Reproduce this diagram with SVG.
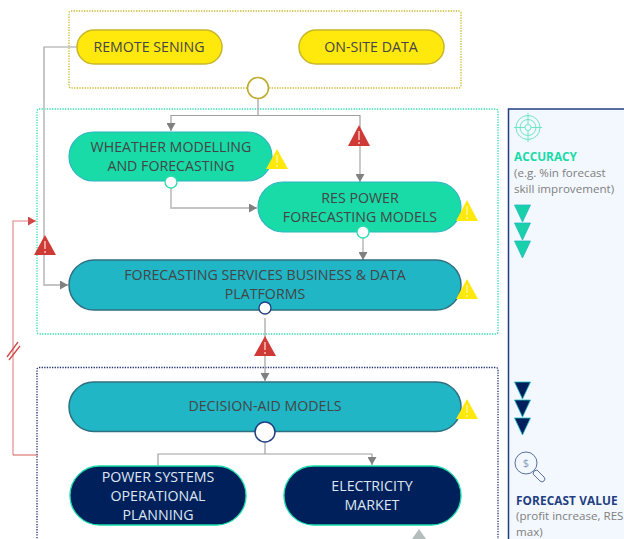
<svg xmlns="http://www.w3.org/2000/svg" width="624" height="539" viewBox="0 0 624 539">
<style>
text{font-family:"Open Sans","Noto Sans","Liberation Sans",sans-serif;font-size:14.2px;fill:#454545;text-anchor:middle}
.small{font-size:11.6px;fill:#808080;text-anchor:start}
.head{font-size:11.8px;font-weight:700;text-anchor:start}
.box{fill:none;stroke-width:1.3;stroke-dasharray:1.3 1.3}
.y{fill:#ffe90d;stroke:#c9b72a;stroke-width:1.5}
.g{fill:#18dba8;stroke:#2fb5c0;stroke-width:1.2}
.t{fill:#20b6c6;stroke:#2f6f80;stroke-width:1.5}
.n{fill:#00205b;stroke:#18dba8;stroke-width:1.3}
.c{fill:none;stroke:#a0a0a0;stroke-width:1.2}
.c2{fill:none;stroke:#c4c4c4;stroke-width:1.8}
.r{fill:none;stroke:#eaaaaa;stroke-width:1.6}
.warnr{fill:#cf3a36}
.warny{fill:#ffe90d}
.bang{fill:#f0b8b0}
.bangy{fill:#fff58a}
.lt{fill:#dfe6f2}
</style>
<defs>
<marker id="a" markerUnits="userSpaceOnUse" markerWidth="9" markerHeight="9" refX="8" refY="4.5" orient="auto"><path d="M0 0L8 4.5L0 9Z" fill="#808080"/></marker>
<marker id="ra" markerUnits="userSpaceOnUse" markerWidth="9" markerHeight="9" refX="8" refY="4.5" orient="auto"><path d="M0 0L8 4.5L0 9Z" fill="#cf4a48"/></marker>
</defs>
<g id="panel"><rect x="508.5" y="109" width="130" height="450" fill="#f3f8fe" stroke="#1f3f80" stroke-width="1.5"/></g>
<g id="zone-data"><rect class="box" x="69" y="11" width="392" height="77" rx="2" stroke="#c9b72a"/></g>
<g id="zone-forecast"><rect class="box" x="37" y="109" width="461" height="225" rx="2" stroke="#2fdcb0"/></g>
<g id="zone-decision"><rect class="box" x="37" y="367.500" width="461" height="190" rx="2" stroke="#1f2f70"/></g>
<g id="connectors">
<path class="c" d="M77 47H44V100"/>
<path class="c2" d="M44 100V285H68" marker-end="url(#a)"/>
<path class="c" d="M258 99V115.500H171V131" marker-end="url(#a)"/>
<path class="c" d="M258 115.500H360V130"/>
<path class="c2" d="M360 130V182" marker-end="url(#a)"/>
<path class="c2" d="M171 188V208H257" marker-end="url(#a)"/>
<path class="c2" d="M363 238V260" marker-end="url(#a)"/>
<path class="c" d="M265 318V381" marker-end="url(#a)"/>
<path class="c" d="M265 442V454M158 465V454H372V465" marker-end="url(#a)"/>
<path class="r" d="M13 300V221H36" marker-end="url(#ra)"/>
<path class="r" d="M13 300V455"/>
<path d="M13 455H38" fill="none" stroke="#d45c5a" stroke-width="1"/>
<path d="M7 357L18 342M9 360L20 346" fill="none" stroke="#cf4a48" stroke-width="1.3"/>
</g>
<g id="remote-sensing"><rect class="y" x="77" y="30" width="145" height="34" rx="17"/><text x="149" y="52">REMOTE SENING</text></g>
<g id="on-site-data"><rect class="y" x="299" y="30" width="145" height="34" rx="17"/><text x="371" y="52">ON-SITE DATA</text></g>
<g id="data-junction"><circle cx="258" cy="88" r="10.500" fill="#fff" stroke="#c0ad2e" stroke-width="1.6"/></g>
<g id="weather"><rect class="g" x="69" y="132" width="203" height="49" rx="24.500"/><text x="171" y="152">WHEATHER MODELLING</text><text x="171" y="171">AND FORECASTING</text><circle cx="171" cy="182" r="6" fill="#fff" stroke="#2fdcb0" stroke-width="1.3"/></g>
<g id="res-power"><rect class="g" x="258" y="182" width="203" height="50" rx="25"/><text x="360" y="203">RES POWER</text><text x="360" y="222">FORECASTING MODELS</text><circle cx="363" cy="232" r="6" fill="#fff" stroke="#2fdcb0" stroke-width="1.3"/></g>
<g id="platforms"><rect class="t" x="69" y="260" width="392" height="50" rx="25"/><text x="265" y="280">FORECASTING SERVICES BUSINESS &amp; DATA</text><text x="265" y="299">PLATFORMS</text><circle cx="265" cy="308" r="6" fill="#fff" stroke="#1f3f80" stroke-width="1.3"/></g>
<g id="decision-aid"><rect class="t" x="69" y="382" width="392" height="49.500" rx="24.700"/><text x="265" y="411">DECISION-AID MODELS</text><circle cx="265" cy="432" r="10" fill="#fff" stroke="#1f3f80" stroke-width="1.5"/></g>
<g id="power-systems"><rect class="n" x="70" y="466" width="176" height="59" rx="29.500"/><text class="lt" x="158" y="482">POWER SYSTEMS</text><text class="lt" x="158" y="501">OPERATIONAL</text><text class="lt" x="158" y="520">PLANNING</text></g>
<g id="electricity-market"><rect class="n" x="284" y="466" width="177" height="59" rx="29.500"/><text class="lt" x="372" y="491">ELECTRICITY</text><text class="lt" x="372" y="510">MARKET</text></g>
<g id="warnings">
<path class="warnr" d="M45 235L56 255H34Z"/><rect class="bang" x="44.200" y="241" width="1.600" height="8"/><rect class="bang" x="44.200" y="251" width="1.600" height="2"/>
<path class="warnr" d="M359 125L370 146H348Z"/><rect class="bang" x="358.200" y="131" width="1.600" height="9"/><rect class="bang" x="358.200" y="142" width="1.600" height="2"/>
<path class="warnr" d="M265 336L276 356H254Z"/><rect class="bang" x="264.200" y="342" width="1.600" height="8"/><rect class="bang" x="264.200" y="352" width="1.600" height="2"/>
<path class="warny" d="M277 149L288 169H266Z"/><rect class="bangy" x="276.200" y="155" width="1.600" height="8"/><rect class="bangy" x="276.200" y="165" width="1.600" height="2"/>
<path class="warny" d="M467 200L478 221H456Z"/><rect class="bangy" x="466.200" y="206" width="1.600" height="9"/><rect class="bangy" x="466.200" y="217" width="1.600" height="2"/>
<path class="warny" d="M467 279L478 299H456Z"/><rect class="bangy" x="466.200" y="285" width="1.600" height="8"/><rect class="bangy" x="466.200" y="295" width="1.600" height="2"/>
<path class="warny" d="M467 399L478 419H456Z"/><rect class="bangy" x="466.200" y="405" width="1.600" height="8"/><rect class="bangy" x="466.200" y="415" width="1.600" height="2"/>
<path fill="#b5bcbc" d="M419 529L426 539H412Z"/>
</g>
<g id="accuracy">
<g fill="none" stroke="#5fe3c0" stroke-width="0.9"><circle cx="528" cy="127.500" r="3"/><circle cx="528" cy="127.500" r="8"/><circle cx="528" cy="127.500" r="12"/><path d="M528 113V124M528 131V142M514 127.500H525M531 127.500H542"/></g>
<text class="head" x="514" y="161" style="fill:#18dba8">ACCURACY</text>
<text class="small" x="514" y="177">(e.g. %in forecast</text>
<text class="small" x="514" y="193">skill improvement)</text>
<g fill="#18d0aa" stroke="#25b9c5" stroke-width="0.8"><path d="M514.500 205H530.500L522.500 222Z"/><path d="M514.500 223H530.500L522.500 240Z"/><path d="M514.500 241H530.500L522.500 258Z"/></g>
</g>
<g id="forecast-value">
<g fill="#00205b" stroke="#25b9c5" stroke-width="0.8"><path d="M514.500 382H530.500L522.500 399Z"/><path d="M514.500 400H530.500L522.500 417Z"/><path d="M514.500 418H530.500L522.500 435Z"/></g>
<g fill="none" stroke="#5a6f9f" stroke-width="1"><circle cx="526" cy="463" r="11"/><path d="M534 471L537 470L544 477A2.500 2.500 0 0 1 540 481L533 474Z"/></g>
<text x="526" y="467" style="font-size:11px;fill:#8898bb">$</text>
<text class="head" x="516" y="505" style="fill:#1f3f80;letter-spacing:0.1px">FORECAST VALUE</text>
<text class="small" x="516" y="520">(profit increase, RES</text>
<text class="small" x="516" y="536">max)</text>
</g>
</svg>
